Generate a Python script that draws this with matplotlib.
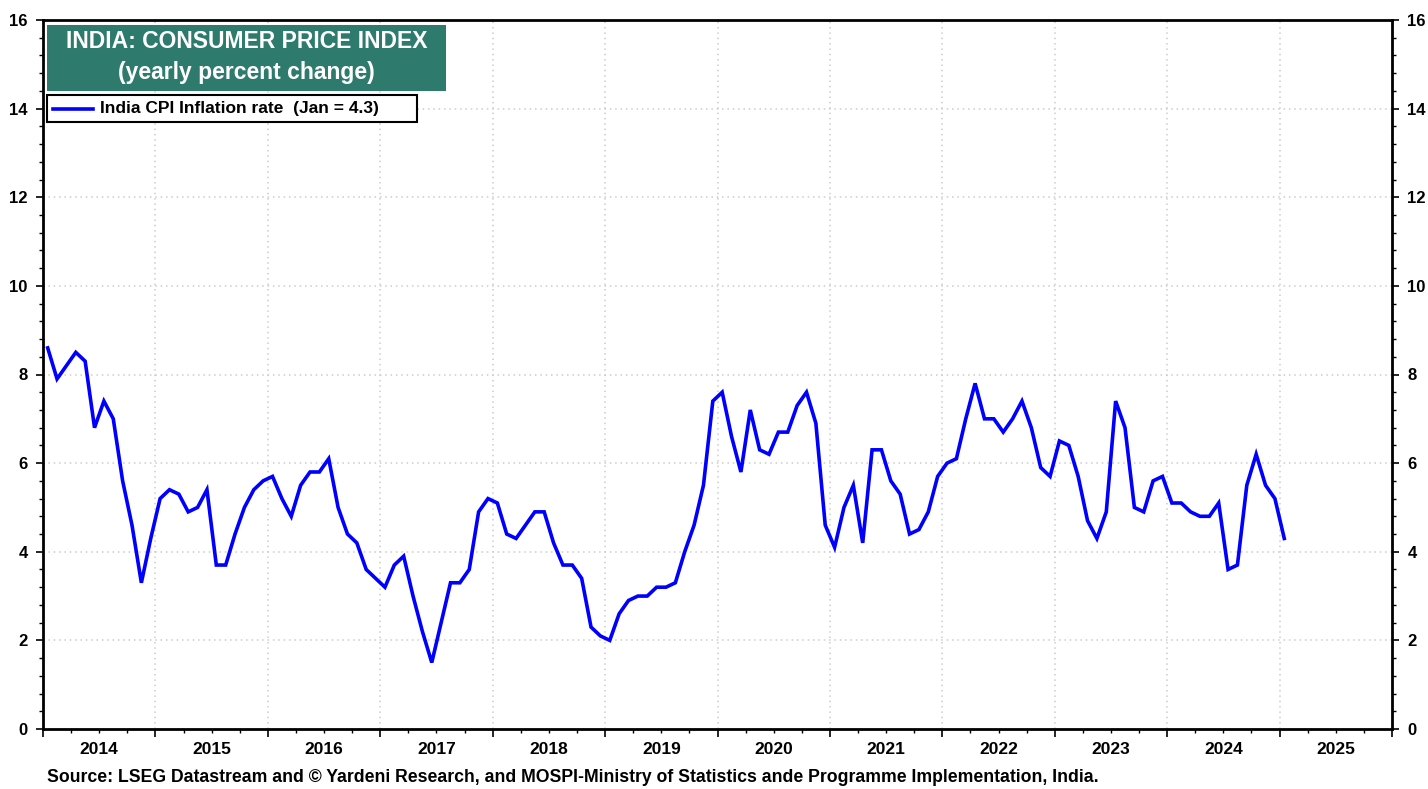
import numpy as np
import matplotlib
matplotlib.use("Agg")
import matplotlib.pyplot as plt
from matplotlib.ticker import MultipleLocator, FixedLocator
from matplotlib.patches import Rectangle
import matplotlib.transforms as mtransforms

plt.rcParams['font.family'] = ['Liberation Sans', 'DejaVu Sans']
plt.rcParams['font.weight'] = 'bold'

# India CPI inflation, yearly % change, monthly from Jan 2014
start_year = 2014
cpi = [
    8.6, 7.9, 8.2, 8.5, 8.3, 6.8, 7.4, 7.0, 5.6, 4.6, 3.3, 4.3,   # 2014
    5.2, 5.4, 5.3, 4.9, 5.0, 5.4, 3.7, 3.7, 4.4, 5.0, 5.4, 5.6,   # 2015
    5.7, 5.2, 4.8, 5.5, 5.8, 5.8, 6.1, 5.0, 4.4, 4.2, 3.6, 3.4,   # 2016
    3.2, 3.7, 3.9, 3.0, 2.2, 1.5, 2.4, 3.3, 3.3, 3.6, 4.9, 5.2,   # 2017
    5.1, 4.4, 4.3, 4.6, 4.9, 4.9, 4.2, 3.7, 3.7, 3.4, 2.3, 2.1,   # 2018
    2.0, 2.6, 2.9, 3.0, 3.0, 3.2, 3.2, 3.3, 4.0, 4.6, 5.5, 7.4,   # 2019
    7.6, 6.6, 5.8, 7.2, 6.3, 6.2, 6.7, 6.7, 7.3, 7.6, 6.9, 4.6,   # 2020
    4.1, 5.0, 5.5, 4.2, 6.3, 6.3, 5.6, 5.3, 4.4, 4.5, 4.9, 5.7,   # 2021
    6.0, 6.1, 7.0, 7.8, 7.0, 7.0, 6.7, 7.0, 7.4, 6.8, 5.9, 5.7,   # 2022
    6.5, 6.4, 5.7, 4.7, 4.3, 4.9, 7.4, 6.8, 5.0, 4.9, 5.6, 5.7,   # 2023
    5.1, 5.1, 4.9, 4.8, 4.8, 5.1, 3.6, 3.7, 5.5, 6.2, 5.5, 5.2,   # 2024
    4.3,                                                          # 2025
]
year_labels = [str(y) for y in range(2014, 2026)]

title_line1 = "INDIA: CONSUMER PRICE INDEX"
title_line2 = "(yearly percent change)"
legend_label = "India CPI Inflation rate  (Jan = 4.3)"
source = ("Source: LSEG Datastream and \u00a9 Yardeni Research, and MOSPI-Ministry of "
          "Statistics ande Programme Implementation, India.")

# mid-month positions in decimal years
t = start_year + (np.arange(len(cpi)) + 0.5) / 12.0

fig = plt.figure(figsize=(14.28, 7.89), dpi=100)
ax = fig.add_axes([43/1428, 1 - 729/789, (1392-43)/1428, (729-20)/789])

ax.plot(t, cpi, color='#0000FF', lw=2.6, solid_joinstyle='miter', zorder=3)

ax.set_xlim(2014, 2026)
ax.set_ylim(0, 16)

# x axis: year boundaries, quarterly minor ticks, labels centred in each year
ax.xaxis.set_major_locator(FixedLocator(np.arange(2014, 2027)))
ax.xaxis.set_minor_locator(MultipleLocator(0.25))
ax.set_xticklabels([])
ax.tick_params(axis='x', which='major', direction='out', length=6, width=1.2, colors='black')
ax.tick_params(axis='x', which='minor', direction='out', length=3, width=1.0)
trans = mtransforms.blended_transform_factory(ax.transData, ax.transAxes)
for i, lab in enumerate(year_labels):
    ax.text(2014 + i + 0.5, -0.018, lab, transform=trans, ha='center', va='top',
            fontsize=12.5, fontweight='bold')

# y axis both sides
ax.yaxis.set_major_locator(MultipleLocator(2))
ax.yaxis.set_minor_locator(MultipleLocator(0.4))
ax.tick_params(axis='y', which='both', left=True, right=True, labelleft=True, labelright=True,
               direction='out', labelsize=12)
ax.tick_params(axis='y', which='major', length=5, width=1.2, pad=6)
ax.tick_params(axis='y', which='minor', length=3, width=1.0)
for lab in ax.get_yticklabels():
    lab.set_fontweight('bold')

ax.grid(True, which='major', color='#cccccc', linestyle=(0, (1, 2.5)), linewidth=1.1)
for sp in ax.spines.values():
    sp.set_linewidth(2)
    sp.set_color('black')

# title box
ax.add_patch(Rectangle((47/1428, 1 - 91/789), (446-47)/1428, (91-25)/789,
                       transform=fig.transFigure, facecolor='#2E7B6D', edgecolor='none',
                       zorder=5))
fig.text((47+446)/2/1428, 1 - 41/789, title_line1, ha='center', va='center',
         color='white', fontsize=16.5, fontweight='bold', zorder=6)
fig.text((47+446)/2/1428, 1 - 73/789, title_line2, ha='center', va='center',
         color='white', fontsize=16.5, fontweight='bold', zorder=6)

# legend box
ax.add_patch(Rectangle((47/1428, 1 - 122/789), (417-47)/1428, (122-95)/789,
                       transform=fig.transFigure, facecolor='white', edgecolor='black',
                       linewidth=1.5, zorder=5))
fig.add_artist(plt.Line2D([53/1428, 93/1428], [1 - 108.5/789] * 2, color='#0000FF',
                          lw=2.6, zorder=6))
fig.text(100/1428, 1 - 108.5/789, legend_label, ha='left', va='center',
         fontsize=12.5, fontweight='bold', zorder=6)

fig.text(47/1428, 1 - 777/789, source, ha='left', va='center', fontsize=12.7,
         fontweight='bold')

fig.savefig('out.png', dpi=100)
